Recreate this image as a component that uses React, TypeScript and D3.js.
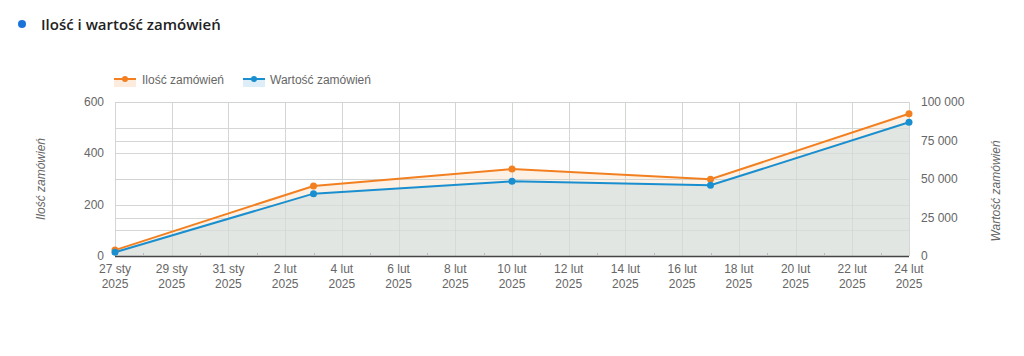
import React from "react";
import * as d3 from "d3";

const dates = ["2025-01-27", "2025-02-03", "2025-02-10", "2025-02-17", "2025-02-24"];
const orderCounts = [23, 273, 339, 299, 554];
const orderValues = [2400, 40500, 48500, 45900, 86800];
const leftTicks = [0, 200, 400, 600];
const leftMinor = [100, 300, 500];
const rightTicks = [0, 25000, 50000, 75000, 100000];
const monthNames = ["sty", "lut", "mar", "kwi", "maj", "cze", "lip", "sie", "wrz", "paź", "lis", "gru"];

const W = 1024, H = 356;
const M = { left: 115, right: 909, top: 102, bottom: 256 };
const ORANGE = "#f28021";
const BLUE = "#1a8fcf";
const TXT = "#666666";
const FONT = "'Liberation Sans', Arial, sans-serif";

const fmtSpace = (v: number) => d3.format(",")(v).replace(/,/g, " ");

export default function App() {
  const parse = d3.utcParse("%Y-%m-%d");
  const pts = dates.map((d) => parse(d) as Date);
  const x = d3.scaleUtc().domain([pts[0], pts[pts.length - 1]]).range([M.left, M.right]);
  const yL = d3.scaleLinear().domain([0, 600]).range([M.bottom, M.top]);
  const yR = d3.scaleLinear().domain([0, 100000]).range([M.bottom, M.top]);

  const allDays = d3.utcDay.range(pts[0], d3.utcDay.offset(pts[pts.length - 1], 1));
  const majors = allDays.filter((_, i) => i % 2 === 0);
  const minors = allDays.filter((_, i) => i % 2 === 1);

  const countData = pts.map((d, i) => ({ d, v: orderCounts[i] }));
  const valueData = pts.map((d, i) => ({ d, v: orderValues[i] }));

  const lineL = d3.line<{ d: Date; v: number }>().x((p) => x(p.d)).y((p) => yL(p.v));
  const lineR = d3.line<{ d: Date; v: number }>().x((p) => x(p.d)).y((p) => yR(p.v));
  const areaL = d3.area<{ d: Date; v: number }>().x((p) => x(p.d)).y0(yL(0)).y1((p) => yL(p.v));
  const areaR = d3.area<{ d: Date; v: number }>().x((p) => x(p.d)).y0(yR(0)).y1((p) => yR(p.v));

  const gridY = [
    ...leftTicks.map((t) => yL(t)),
    ...leftMinor.map((t) => yL(t)),
    ...rightTicks.map((t) => yR(t)),
  ];

  return (
    <svg width={W} height={H} style={{ position: "absolute", left: 0, top: 0, background: "#fff" }}>
      {/* Title */}
      <circle cx={22} cy={24} r={4} fill="#1a73d9" />
      <text x={41} y={29.5} fontFamily="'Open Sans', sans-serif" fontWeight={600} fontSize={15} fill="#222">
        Ilość i wartość zamówień
      </text>

      {/* Legend */}
      <g fontFamily={FONT} fontSize={12} fill={TXT}>
        <rect x={114} y={79} width={22} height={8} fill={ORANGE} opacity={0.15} />
        <line x1={114} x2={136} y1={79} y2={79} stroke={ORANGE} strokeWidth={2} />
        <circle cx={125} cy={79} r={3} fill={ORANGE} />
        <text x={142} y={83.5}>Ilość zamówień</text>
        <rect x={243} y={79} width={22} height={8} fill={BLUE} opacity={0.15} />
        <line x1={243} x2={265} y1={79} y2={79} stroke={BLUE} strokeWidth={2} />
        <circle cx={254} cy={79} r={3} fill={BLUE} />
        <text x={270} y={83.5}>Wartość zamówień</text>
      </g>

      {/* Grid */}
      <g stroke="#dcdcdc" strokeWidth={1}>
        {gridY.map((y, i) => (
          <line key={"h" + i} x1={M.left} x2={M.right} y1={Math.round(y) + 0.5} y2={Math.round(y) + 0.5} />
        ))}
        {majors.map((d, i) => (
          <line key={"v" + i} x1={Math.round(x(d)) + 0.5} x2={Math.round(x(d)) + 0.5} y1={M.top} y2={M.bottom} />
        ))}
      </g>

      {/* Areas */}
      <path d={areaL(countData)!} fill={ORANGE} opacity={0.12} />
      <path d={areaR(valueData)!} fill="#e2e6e3" />

      {/* Grid lines over fill (subtle) */}
      <g stroke="#cfd3d0" strokeWidth={1}>
        {majors.map((d, i) => (
          <line key={"vv" + i} x1={Math.round(x(d)) + 0.5} x2={Math.round(x(d)) + 0.5} y1={M.top} y2={M.bottom} opacity={0.6} />
        ))}
        {gridY.map((y, i) => (
          <line key={"hh" + i} x1={M.left} x2={M.right} y1={Math.round(y) + 0.5} y2={Math.round(y) + 0.5} opacity={0.5} />
        ))}
      </g>

      {/* Lines */}
      <path d={lineL(countData)!} fill="none" stroke={ORANGE} strokeWidth={2} />
      <path d={lineR(valueData)!} fill="none" stroke={BLUE} strokeWidth={2} />
      {countData.map((p, i) => (
        <circle key={"c" + i} cx={x(p.d)} cy={yL(p.v)} r={3.5} fill={ORANGE} />
      ))}
      {valueData.map((p, i) => (
        <circle key={"b" + i} cx={x(p.d)} cy={yR(p.v)} r={3.5} fill={BLUE} />
      ))}

      {/* X axis */}
      <line x1={M.left} x2={M.right} y1={M.bottom + 0.5} y2={M.bottom + 0.5} stroke="#444" strokeWidth={1.5} />
      {minors.map((d, i) => (
        <line key={"m" + i} x1={Math.round(x(d)) + 0.5} x2={Math.round(x(d)) + 0.5} y1={M.bottom - 3} y2={M.bottom} stroke="#bbb" />
      ))}
      <g fontFamily={FONT} fontSize={12} fill={TXT} textAnchor="middle">
        {majors.map((d, i) => (
          <text key={"xl" + i} x={x(d)} y={273}>
            <tspan x={x(d)}>{`${d.getUTCDate()} ${monthNames[d.getUTCMonth()]}`}</tspan>
            <tspan x={x(d)} dy={15}>{d.getUTCFullYear()}</tspan>
          </text>
        ))}
      </g>

      {/* Left axis */}
      <g fontFamily={FONT} fontSize={12} fill={TXT} textAnchor="end">
        {leftTicks.map((t) => (
          <text key={"l" + t} x={104} y={yL(t) + 4}>{t}</text>
        ))}
      </g>
      <text
        transform={`translate(45,${(M.top + M.bottom) / 2}) rotate(-90)`}
        textAnchor="middle"
        fontFamily={FONT}
        fontSize={12}
        fontStyle="italic"
        fill={TXT}
      >
        Ilość zamówień
      </text>

      {/* Right axis */}
      <g fontFamily={FONT} fontSize={12} fill={TXT} textAnchor="start">
        {rightTicks.map((t) => (
          <text key={"r" + t} x={921} y={yR(t) + 4}>{fmtSpace(t)}</text>
        ))}
      </g>
      <text
        transform={`translate(1000,${(M.top + M.bottom) / 2 + 12}) rotate(-90)`}
        textAnchor="middle"
        fontFamily={FONT}
        fontSize={12}
        fontStyle="italic"
        fill={TXT}
      >
        Wartość zamówień
      </text>
    </svg>
  );
}
